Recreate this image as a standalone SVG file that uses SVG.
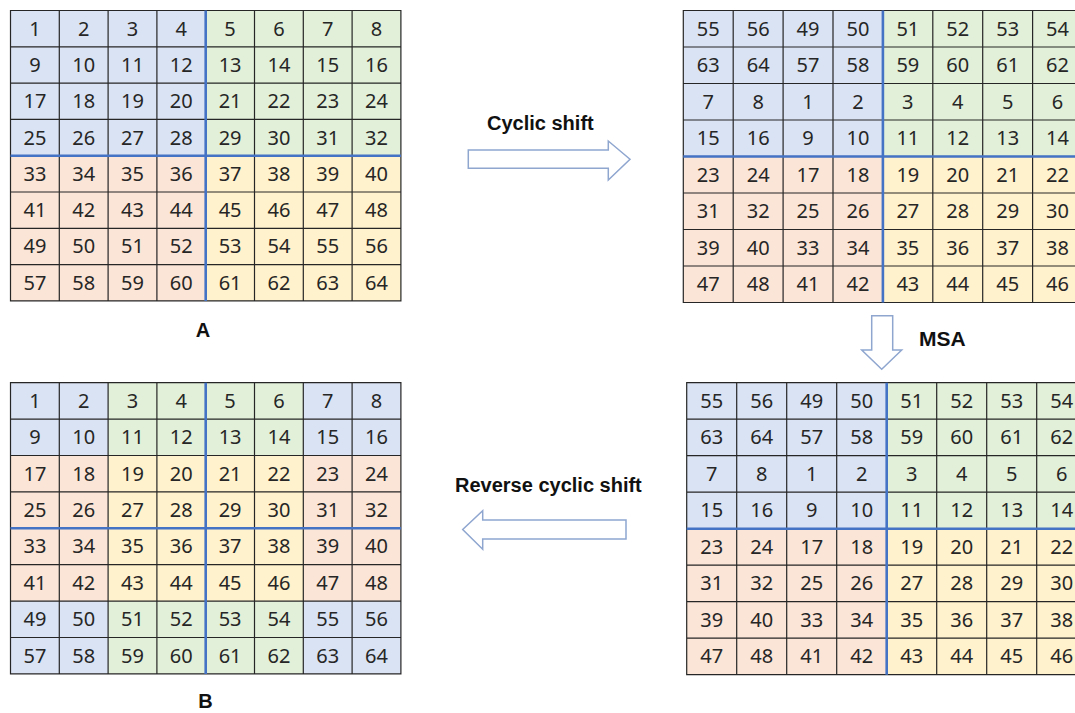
<svg xmlns="http://www.w3.org/2000/svg" width="1075" height="713" viewBox="0 0 1075 713">
<style>
.b{fill:#DAE3F3}.g{fill:#E2F0D9}.p{fill:#FBE5D6}.y{fill:#FFF2CC}
.ln{fill:none;stroke:#262626;stroke-width:1.2}
.bl{fill:none;stroke:#4472C4;stroke-width:2.6}
.n{font-family:"Noto Sans","Liberation Sans",sans-serif;font-size:20px;fill:#262626;text-anchor:middle}
.lb{font-family:"Liberation Sans",Arial,sans-serif;font-weight:bold;font-size:20px;fill:#111}
.ar{fill:#fff;stroke:#8FA6CF;stroke-width:1.5;stroke-linejoin:miter}
</style>
<rect width="1075" height="713" fill="#fff"/>

<g id="gridA" transform="translate(10.5,10.5)">
<rect class="b" x="0" y="0" width="195.2" height="145.2"/>
<rect class="g" x="195.2" y="0" width="195.2" height="145.2"/>
<rect class="p" x="0" y="145.2" width="195.2" height="145.2"/>
<rect class="y" x="195.2" y="145.2" width="195.2" height="145.2"/>
<path class="ln" d="M48.8 0V290.4M97.6 0V290.4M146.4 0V290.4M244 0V290.4M292.8 0V290.4M341.6 0V290.4M0 36.3H390.4M0 72.6H390.4M0 108.9H390.4M0 181.5H390.4M0 217.8H390.4M0 254.1H390.4M0 0H390.4V290.4H0Z"/>
<path class="bl" d="M195.2 0V290.4M0 145.2H390.4"/>
<text class="n" y="25.15"><tspan x="24.4">1</tspan><tspan x="73.2">2</tspan><tspan x="122">3</tspan><tspan x="170.8">4</tspan><tspan x="219.6">5</tspan><tspan x="268.4">6</tspan><tspan x="317.2">7</tspan><tspan x="366">8</tspan></text>
<text class="n" y="61.45"><tspan x="24.4">9</tspan><tspan x="73.2">10</tspan><tspan x="122">11</tspan><tspan x="170.8">12</tspan><tspan x="219.6">13</tspan><tspan x="268.4">14</tspan><tspan x="317.2">15</tspan><tspan x="366">16</tspan></text>
<text class="n" y="97.75"><tspan x="24.4">17</tspan><tspan x="73.2">18</tspan><tspan x="122">19</tspan><tspan x="170.8">20</tspan><tspan x="219.6">21</tspan><tspan x="268.4">22</tspan><tspan x="317.2">23</tspan><tspan x="366">24</tspan></text>
<text class="n" y="134.05"><tspan x="24.4">25</tspan><tspan x="73.2">26</tspan><tspan x="122">27</tspan><tspan x="170.8">28</tspan><tspan x="219.6">29</tspan><tspan x="268.4">30</tspan><tspan x="317.2">31</tspan><tspan x="366">32</tspan></text>
<text class="n" y="170.35"><tspan x="24.4">33</tspan><tspan x="73.2">34</tspan><tspan x="122">35</tspan><tspan x="170.8">36</tspan><tspan x="219.6">37</tspan><tspan x="268.4">38</tspan><tspan x="317.2">39</tspan><tspan x="366">40</tspan></text>
<text class="n" y="206.65"><tspan x="24.4">41</tspan><tspan x="73.2">42</tspan><tspan x="122">43</tspan><tspan x="170.8">44</tspan><tspan x="219.6">45</tspan><tspan x="268.4">46</tspan><tspan x="317.2">47</tspan><tspan x="366">48</tspan></text>
<text class="n" y="242.95"><tspan x="24.4">49</tspan><tspan x="73.2">50</tspan><tspan x="122">51</tspan><tspan x="170.8">52</tspan><tspan x="219.6">53</tspan><tspan x="268.4">54</tspan><tspan x="317.2">55</tspan><tspan x="366">56</tspan></text>
<text class="n" y="279.25"><tspan x="24.4">57</tspan><tspan x="73.2">58</tspan><tspan x="122">59</tspan><tspan x="170.8">60</tspan><tspan x="219.6">61</tspan><tspan x="268.4">62</tspan><tspan x="317.2">63</tspan><tspan x="366">64</tspan></text>
</g>

<g id="gridShifted" transform="translate(683.3,10.5)">
<rect class="b" x="0" y="0" width="199.6" height="146"/>
<rect class="g" x="199.6" y="0" width="199.6" height="146"/>
<rect class="p" x="0" y="146" width="199.6" height="146"/>
<rect class="y" x="199.6" y="146" width="199.6" height="146"/>
<path class="ln" d="M49.9 0V292M99.8 0V292M149.7 0V292M249.5 0V292M299.4 0V292M349.3 0V292M0 36.5H399.2M0 73H399.2M0 109.5H399.2M0 182.5H399.2M0 219H399.2M0 255.5H399.2M0 0H399.2V292H0Z"/>
<path class="bl" d="M199.6 0V292M0 146H399.2"/>
<text class="n" y="25.25"><tspan x="24.95">55</tspan><tspan x="74.85">56</tspan><tspan x="124.75">49</tspan><tspan x="174.65">50</tspan><tspan x="224.55">51</tspan><tspan x="274.45">52</tspan><tspan x="324.35">53</tspan><tspan x="374.25">54</tspan></text>
<text class="n" y="61.75"><tspan x="24.95">63</tspan><tspan x="74.85">64</tspan><tspan x="124.75">57</tspan><tspan x="174.65">58</tspan><tspan x="224.55">59</tspan><tspan x="274.45">60</tspan><tspan x="324.35">61</tspan><tspan x="374.25">62</tspan></text>
<text class="n" y="98.25"><tspan x="24.95">7</tspan><tspan x="74.85">8</tspan><tspan x="124.75">1</tspan><tspan x="174.65">2</tspan><tspan x="224.55">3</tspan><tspan x="274.45">4</tspan><tspan x="324.35">5</tspan><tspan x="374.25">6</tspan></text>
<text class="n" y="134.75"><tspan x="24.95">15</tspan><tspan x="74.85">16</tspan><tspan x="124.75">9</tspan><tspan x="174.65">10</tspan><tspan x="224.55">11</tspan><tspan x="274.45">12</tspan><tspan x="324.35">13</tspan><tspan x="374.25">14</tspan></text>
<text class="n" y="171.25"><tspan x="24.95">23</tspan><tspan x="74.85">24</tspan><tspan x="124.75">17</tspan><tspan x="174.65">18</tspan><tspan x="224.55">19</tspan><tspan x="274.45">20</tspan><tspan x="324.35">21</tspan><tspan x="374.25">22</tspan></text>
<text class="n" y="207.75"><tspan x="24.95">31</tspan><tspan x="74.85">32</tspan><tspan x="124.75">25</tspan><tspan x="174.65">26</tspan><tspan x="224.55">27</tspan><tspan x="274.45">28</tspan><tspan x="324.35">29</tspan><tspan x="374.25">30</tspan></text>
<text class="n" y="244.25"><tspan x="24.95">39</tspan><tspan x="74.85">40</tspan><tspan x="124.75">33</tspan><tspan x="174.65">34</tspan><tspan x="224.55">35</tspan><tspan x="274.45">36</tspan><tspan x="324.35">37</tspan><tspan x="374.25">38</tspan></text>
<text class="n" y="280.75"><tspan x="24.95">47</tspan><tspan x="74.85">48</tspan><tspan x="124.75">41</tspan><tspan x="174.65">42</tspan><tspan x="224.55">43</tspan><tspan x="274.45">44</tspan><tspan x="324.35">45</tspan><tspan x="374.25">46</tspan></text>
</g>

<g id="gridMSA" transform="translate(686.7,382.7)">
<rect class="b" x="0" y="0" width="200" height="146"/>
<rect class="g" x="200" y="0" width="200" height="146"/>
<rect class="p" x="0" y="146" width="200" height="146"/>
<rect class="y" x="200" y="146" width="200" height="146"/>
<path class="ln" d="M50 0V292M100 0V292M150 0V292M250 0V292M300 0V292M350 0V292M0 36.5H400M0 73H400M0 109.5H400M0 182.5H400M0 219H400M0 255.5H400M0 0H400V292H0Z"/>
<path class="bl" d="M200 0V292M0 146H400"/>
<text class="n" y="25.25"><tspan x="25">55</tspan><tspan x="75">56</tspan><tspan x="125">49</tspan><tspan x="175">50</tspan><tspan x="225">51</tspan><tspan x="275">52</tspan><tspan x="325">53</tspan><tspan x="375">54</tspan></text>
<text class="n" y="61.75"><tspan x="25">63</tspan><tspan x="75">64</tspan><tspan x="125">57</tspan><tspan x="175">58</tspan><tspan x="225">59</tspan><tspan x="275">60</tspan><tspan x="325">61</tspan><tspan x="375">62</tspan></text>
<text class="n" y="98.25"><tspan x="25">7</tspan><tspan x="75">8</tspan><tspan x="125">1</tspan><tspan x="175">2</tspan><tspan x="225">3</tspan><tspan x="275">4</tspan><tspan x="325">5</tspan><tspan x="375">6</tspan></text>
<text class="n" y="134.75"><tspan x="25">15</tspan><tspan x="75">16</tspan><tspan x="125">9</tspan><tspan x="175">10</tspan><tspan x="225">11</tspan><tspan x="275">12</tspan><tspan x="325">13</tspan><tspan x="375">14</tspan></text>
<text class="n" y="171.25"><tspan x="25">23</tspan><tspan x="75">24</tspan><tspan x="125">17</tspan><tspan x="175">18</tspan><tspan x="225">19</tspan><tspan x="275">20</tspan><tspan x="325">21</tspan><tspan x="375">22</tspan></text>
<text class="n" y="207.75"><tspan x="25">31</tspan><tspan x="75">32</tspan><tspan x="125">25</tspan><tspan x="175">26</tspan><tspan x="225">27</tspan><tspan x="275">28</tspan><tspan x="325">29</tspan><tspan x="375">30</tspan></text>
<text class="n" y="244.25"><tspan x="25">39</tspan><tspan x="75">40</tspan><tspan x="125">33</tspan><tspan x="175">34</tspan><tspan x="225">35</tspan><tspan x="275">36</tspan><tspan x="325">37</tspan><tspan x="375">38</tspan></text>
<text class="n" y="280.75"><tspan x="25">47</tspan><tspan x="75">48</tspan><tspan x="125">41</tspan><tspan x="175">42</tspan><tspan x="225">43</tspan><tspan x="275">44</tspan><tspan x="325">45</tspan><tspan x="375">46</tspan></text>
</g>

<g id="gridB" transform="translate(10.5,382.7)">
<rect class="b" x="0" y="0" width="97.6" height="72.8"/>
<rect class="g" x="97.6" y="0" width="195.2" height="72.8"/>
<rect class="b" x="292.8" y="0" width="97.6" height="72.8"/>
<rect class="p" x="0" y="72.8" width="97.6" height="145.6"/>
<rect class="y" x="97.6" y="72.8" width="195.2" height="145.6"/>
<rect class="p" x="292.8" y="72.8" width="97.6" height="145.6"/>
<rect class="b" x="0" y="218.4" width="97.6" height="72.8"/>
<rect class="g" x="97.6" y="218.4" width="195.2" height="72.8"/>
<rect class="b" x="292.8" y="218.4" width="97.6" height="72.8"/>
<path class="ln" d="M48.8 0V291.2M97.6 0V291.2M146.4 0V291.2M244 0V291.2M292.8 0V291.2M341.6 0V291.2M0 36.4H390.4M0 72.8H390.4M0 109.2H390.4M0 182H390.4M0 218.4H390.4M0 254.8H390.4M0 0H390.4V291.2H0Z"/>
<path class="bl" d="M195.2 0V291.2M0 145.6H390.4"/>
<text class="n" y="25.2"><tspan x="24.4">1</tspan><tspan x="73.2">2</tspan><tspan x="122">3</tspan><tspan x="170.8">4</tspan><tspan x="219.6">5</tspan><tspan x="268.4">6</tspan><tspan x="317.2">7</tspan><tspan x="366">8</tspan></text>
<text class="n" y="61.6"><tspan x="24.4">9</tspan><tspan x="73.2">10</tspan><tspan x="122">11</tspan><tspan x="170.8">12</tspan><tspan x="219.6">13</tspan><tspan x="268.4">14</tspan><tspan x="317.2">15</tspan><tspan x="366">16</tspan></text>
<text class="n" y="98"><tspan x="24.4">17</tspan><tspan x="73.2">18</tspan><tspan x="122">19</tspan><tspan x="170.8">20</tspan><tspan x="219.6">21</tspan><tspan x="268.4">22</tspan><tspan x="317.2">23</tspan><tspan x="366">24</tspan></text>
<text class="n" y="134.4"><tspan x="24.4">25</tspan><tspan x="73.2">26</tspan><tspan x="122">27</tspan><tspan x="170.8">28</tspan><tspan x="219.6">29</tspan><tspan x="268.4">30</tspan><tspan x="317.2">31</tspan><tspan x="366">32</tspan></text>
<text class="n" y="170.8"><tspan x="24.4">33</tspan><tspan x="73.2">34</tspan><tspan x="122">35</tspan><tspan x="170.8">36</tspan><tspan x="219.6">37</tspan><tspan x="268.4">38</tspan><tspan x="317.2">39</tspan><tspan x="366">40</tspan></text>
<text class="n" y="207.2"><tspan x="24.4">41</tspan><tspan x="73.2">42</tspan><tspan x="122">43</tspan><tspan x="170.8">44</tspan><tspan x="219.6">45</tspan><tspan x="268.4">46</tspan><tspan x="317.2">47</tspan><tspan x="366">48</tspan></text>
<text class="n" y="243.6"><tspan x="24.4">49</tspan><tspan x="73.2">50</tspan><tspan x="122">51</tspan><tspan x="170.8">52</tspan><tspan x="219.6">53</tspan><tspan x="268.4">54</tspan><tspan x="317.2">55</tspan><tspan x="366">56</tspan></text>
<text class="n" y="280"><tspan x="24.4">57</tspan><tspan x="73.2">58</tspan><tspan x="122">59</tspan><tspan x="170.8">60</tspan><tspan x="219.6">61</tspan><tspan x="268.4">62</tspan><tspan x="317.2">63</tspan><tspan x="366">64</tspan></text>
</g>

<g id="labels">
<text class="lb" x="203" y="337" text-anchor="middle">A</text>
<text class="lb" x="205.5" y="707.5" text-anchor="middle">B</text>
</g>

<g id="connectors">
<polygon class="ar" points="468.3,150 608.3,150 608.3,141 630,159.2 608.3,180 608.3,168.3 468.3,168.3"/>
<text class="lb" x="487" y="129.5">Cyclic shift</text>
<polygon class="ar" points="871.7,315.7 892.7,315.7 892.7,350 901.7,350 881.7,369.3 861.7,350 871.7,350"/>
<text class="lb" x="919" y="346" style="font-size:21px">MSA</text>
<polygon class="ar" points="626,520 482.7,520 482.7,510.7 462.7,529.5 482.7,549.3 482.7,539 626,539"/>
<text class="lb" x="455" y="491.7">Reverse cyclic shift</text>
</g>
</svg>
